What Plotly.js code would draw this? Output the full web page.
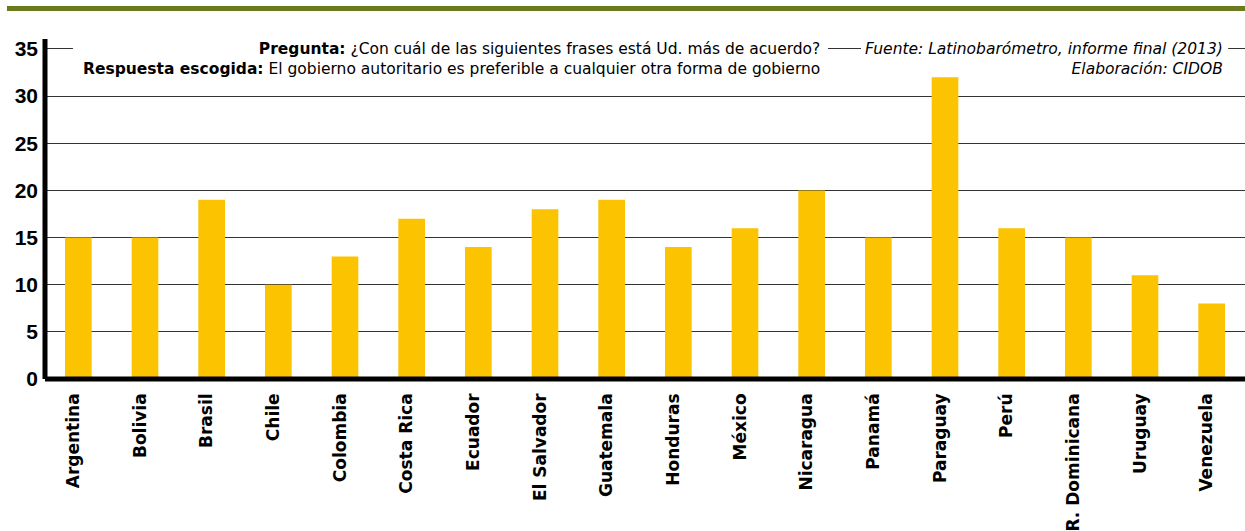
<!DOCTYPE html>
<html>
<head>
<meta charset="utf-8">
<script src="https://cdn.plot.ly/plotly-3.0.1.min.js"></script>
<style>html,body{margin:0;padding:0;background:#fff;}#chart{width:1245px;height:531px;}</style>
</head>
<body>
<div id="chart"></div>
<script>
const countries = ["Argentina","Bolivia","Brasil","Chile","Colombia","Costa Rica","Ecuador","El Salvador","Guatemala","Honduras","México","Nicaragua","Panamá","Paraguay","Perú","R. Dominicana","Uruguay","Venezuela"];
const values = [15,15,19,10,13,17,14,18,19,14,16,20,15,32,16,15,11,8];
const yTicks = [0,5,10,15,20,25,30,35];
const questionText = "<b>Pregunta:</b> ¿Con cuál de las siguientes frases está Ud. más de acuerdo?<br><b>Respuesta escogida:</b> El gobierno autoritario es preferible a cualquier otra forma de gobierno";
const sourceText = "<i>Fuente: Latinobarómetro, informe final (2013)</i><br><i>Elaboración: CIDOB</i>";

const trace = {
  type: "bar",
  x: countries,
  y: values,
  marker: {color: "#FCC300", line: {width: 0}},
  hoverinfo: "x+y"
};

const layout = {
  width: 1245, height: 531,
  margin: {l: 45, r: 0, t: 39, b: 152, pad: 0},
  paper_bgcolor: "#fff", plot_bgcolor: "#fff",
  showlegend: false,
  bargap: 0.6,
  xaxis: {
    type: "category",
    range: [-0.5, 17.5],
    tickangle: -90,
    ticks: "",
    showline: false,
    showgrid: false,
    zeroline: false,
    ticklabelstandoff: 10,
    ticklabelshift: -5,
    tickfont: {family: "DejaVu Sans", size: 17, color: "#000", weight: "bold"}
  },
  yaxis: {
    range: [0, 36.06],
    tickvals: yTicks,
    ticktext: yTicks.map(String),
    ticks: "",
    showline: false,
    showgrid: true,
    gridcolor: "#333",
    gridwidth: 1,
    zeroline: false,
    ticklabelstandoff: 6,
    tickfont: {family: "Liberation Sans", size: 21, color: "#000", weight: "bold"}
  },
  shapes: [
    {type: "rect", layer: "above", xref: "paper", yref: "y", x0: 0.0233, x1: 0.6525, y0: 34.4, y1: 35.6, fillcolor: "#fff", line: {width: 0}},
    {type: "rect", layer: "above", xref: "paper", yref: "y", x0: 0.680, x1: 0.986, y0: 34.4, y1: 35.6, fillcolor: "#fff", line: {width: 0}},
    {type: "line", xref: "paper", yref: "paper", x0: 0, x1: 0, y0: 0, y1: 1, line: {color: "#000", width: 5}},
    {type: "line", xref: "paper", yref: "paper", x0: 0, x1: 1, y0: 0, y1: 0, line: {color: "#000", width: 5}},
    {type: "rect", xref: "paper", yref: "paper", x0: -0.0317, x1: 1, y0: 1.0824, y1: 1.097, fillcolor: "#6B7A1C", line: {width: 0}}
  ],
  annotations: [
    {xref: "paper", yref: "paper", x: 0.6465, y: 0.941, xanchor: "right", yanchor: "middle", align: "right",
     showarrow: false, text: questionText, borderpad: 0,
     font: {family: "DejaVu Sans", size: 15.5, color: "#000"}},
    {xref: "paper", yref: "paper", x: 0.9825, y: 0.941, xanchor: "right", yanchor: "middle", align: "right",
     showarrow: false, text: sourceText, borderpad: 0,
     font: {family: "DejaVu Sans", size: 15.5, color: "#000"}}
  ]
};

Plotly.newPlot("chart", [trace], layout, {staticPlot: true, displayModeBar: false});
</script>
</body>
</html>
